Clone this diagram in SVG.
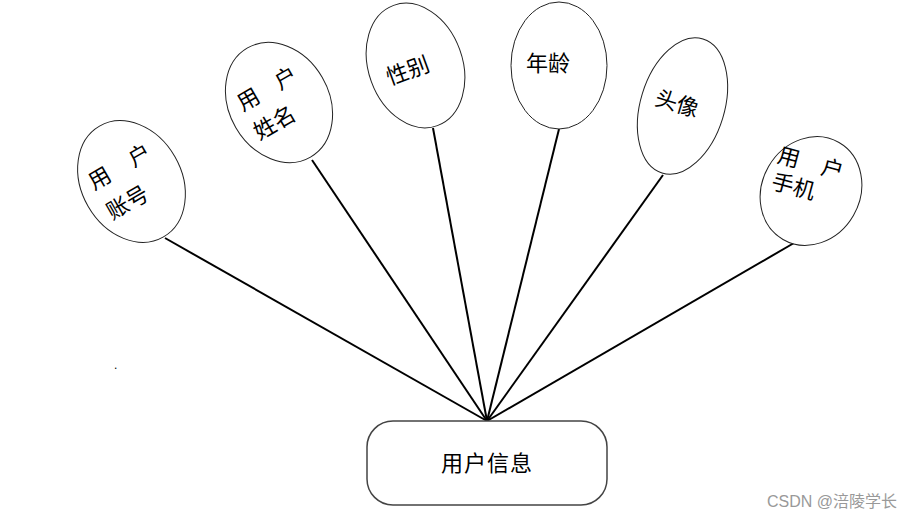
<svg xmlns="http://www.w3.org/2000/svg" width="912" height="519" viewBox="0 0 912 519">
<style>
.ell{fill:#fff;stroke:#222;stroke-width:1}
.t{font-family:"Noto Sans CJK SC","Noto Sans",sans-serif;font-size:22px;fill:#000}
.conn line{stroke:#000;stroke-width:2}
</style>
<rect width="912" height="519" fill="#fff"/>
<g id="connectors" class="conn">
<line x1="165" y1="238" x2="487" y2="421"/>
<line x1="312" y1="160" x2="487" y2="421"/>
<line x1="433" y1="128" x2="487" y2="421"/>
<line x1="559" y1="129" x2="487" y2="421"/>
<line x1="663" y1="175" x2="487" y2="421"/>
<line x1="794" y1="243" x2="487" y2="421"/>
</g>
<g id="n-account" transform="translate(131.5,181.5) rotate(-30)">
<ellipse class="ell" cx="0" cy="0" rx="50" ry="64"/>
<text class="t" y="-11"><tspan x="-37">用</tspan><tspan x="9">户</tspan></text>
<text class="t" x="-36" y="24">账号</text>
</g>
<g id="n-name" transform="translate(279,102.5) rotate(-30)">
<ellipse class="ell" cx="0" cy="0" rx="50" ry="63"/>
<text class="t" y="-10"><tspan x="-36">用</tspan><tspan x="7">户</tspan></text>
<text class="t" x="-36" y="23">姓名</text>
</g>
<g id="n-gender" transform="translate(415.5,65.5) rotate(-20)">
<ellipse class="ell" cx="0" cy="0" rx="47" ry="64"/>
<text class="t" x="-9" y="10" text-anchor="middle">性别</text>
</g>
<g id="n-age">
<ellipse class="ell" cx="559" cy="65.5" rx="48" ry="63.5"/>
<text class="t" x="548" y="71" text-anchor="middle">年龄</text>
</g>
<g id="n-avatar" transform="translate(682.5,106) rotate(17)">
<ellipse class="ell" cx="0" cy="0" rx="42" ry="70"/>
<text class="t" x="-6" y="7" text-anchor="middle">头像</text>
</g>
<g id="n-phone" transform="translate(811,191) rotate(15)">
<ellipse class="ell" cx="0" cy="0" rx="49" ry="56" transform="rotate(15)"/>
<text class="t" y="-19"><tspan x="-41">用</tspan><tspan x="4">户</tspan></text>
<text class="t" x="-40" y="8">手机</text>
</g>
<g id="n-userinfo">
<rect x="367" y="421" width="240" height="84" rx="26" ry="26" fill="#fff" stroke="#444" stroke-width="1.5"/>
<text class="t" x="487" y="471" text-anchor="middle" letter-spacing="1">用户信息</text>
</g>
<text x="114" y="369" font-family="Liberation Sans,sans-serif" font-size="12" fill="#000">.</text>
<text x="897" y="507" text-anchor="end" font-family="Liberation Sans,Noto Sans CJK SC,sans-serif" font-size="16" fill="#999">CSDN @涪陵学长</text>
</svg>
